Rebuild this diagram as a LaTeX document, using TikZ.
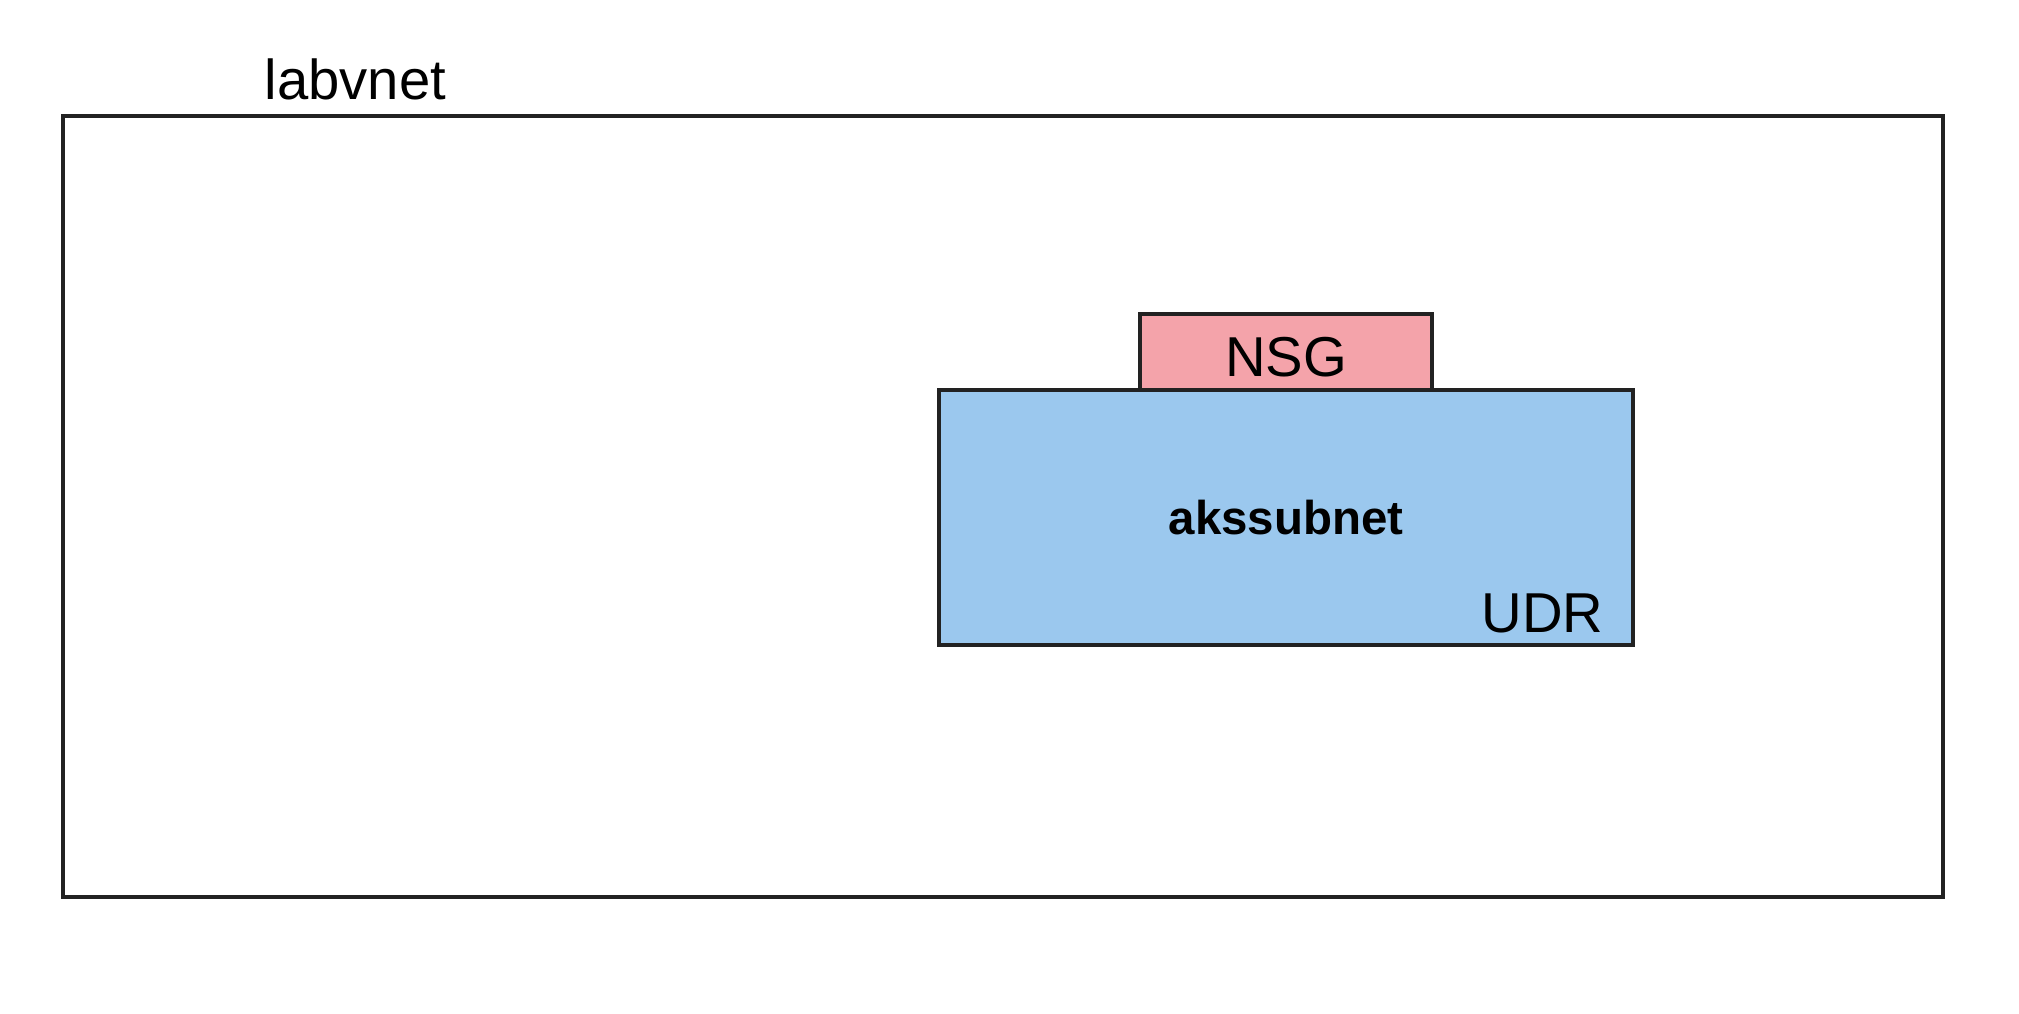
\documentclass[tikz,border=0pt]{standalone}
\usepackage{fontspec}
\setmainfont{Liberation Sans}
\usetikzlibrary{positioning,calc}
\definecolor{Edge}{RGB}{34,34,34}
\definecolor{NsgRed}{RGB}{244,163,170}
\definecolor{SubBlue}{RGB}{155,200,238}
\tikzset{
  vbox/.style={rectangle,draw=Edge,line width=1.1pt,fill=white,inner sep=0pt,outer sep=0pt},
  subbox/.style={vbox,fill=SubBlue},
  nsgbox/.style={vbox,fill=NsgRed,font=\fontsize{16}{19}\selectfont},
  lbl/.style={inner sep=0pt,font=\fontsize{16}{19}\selectfont},
}

\begin{document}
\begin{tikzpicture}
    \useasboundingbox (0,0) rectangle (20.19,10.13);
    \node[vbox,minimum width=18.8cm,minimum height=7.81cm] (vnet) at (10.03,5.065) {};
    \node[lbl,anchor=base] (vnetlbl) at (3.555,9.13) {labvnet};
    % subnet with its nsg on top
    \node[subbox,minimum width=6.94cm,minimum height=2.55cm,
          font=\fontsize{13.5}{16}\selectfont\bfseries] (aks) at (12.86,4.955) {akssubnet};
    \node[nsgbox,minimum width=2.92cm,minimum height=0.76cm,above=0pt of aks] (nsg) {};
    \node[lbl,anchor=base] (nsglbl) at ($(nsg.south)+(0,0.13)$) {NSG};
    \node[lbl,anchor=base east] (udr) at ($(aks.south east)+(-0.29,0.13)$) {UDR};
\end{tikzpicture}
\end{document}
